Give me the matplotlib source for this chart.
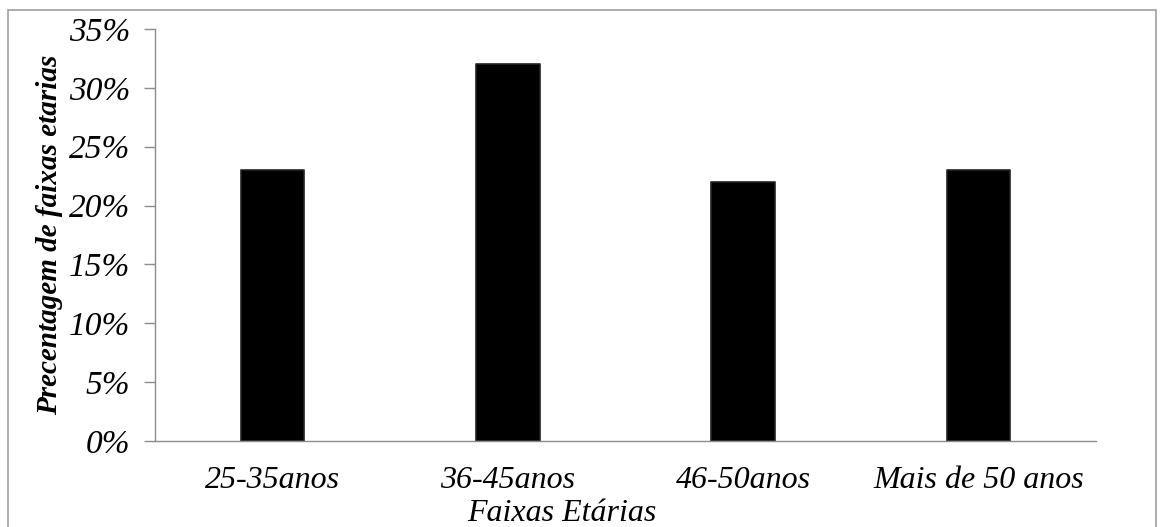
import matplotlib.pyplot as plt
from matplotlib.patches import Rectangle
from matplotlib.ticker import FuncFormatter

categorias = ['25-35anos', '36-45anos', '46-50anos', 'Mais de 50 anos']
percentagens = [23, 32, 22, 23]
yticks = [0, 5, 10, 15, 20, 25, 30, 35]

plt.rcParams['font.family'] = ['Liberation Serif', 'DejaVu Serif']

fig = plt.figure(figsize=(11.64, 5.27), dpi=100)
ax = fig.add_axes([0.1332, 0.1632, 0.9416 - 0.1332, 0.945 - 0.1632])

x = range(len(categorias))
ax.bar(x, percentagens, width=0.27, color='black', edgecolor='#222222',
       linewidth=1.2, joinstyle='round')

ax.set_xlim(-0.5, len(categorias) - 0.5)
ax.set_ylim(0, 35)
ax.set_yticks(yticks)
ax.yaxis.set_major_formatter(FuncFormatter(lambda v, p: '%d%%' % v))
ax.set_xticks(list(x))
ax.set_xticklabels(categorias)

for lab in ax.get_xticklabels():
    lab.set_fontsize(23)
    lab.set_fontstyle('italic')
for lab in ax.get_yticklabels():
    lab.set_fontsize(24)
    lab.set_fontstyle('italic')

ax.tick_params(axis='x', length=0, pad=18)
ax.tick_params(axis='y', length=8, width=1, color='#8c8c8c', pad=10)

for s in ['top', 'right']:
    ax.spines[s].set_visible(False)
for s in ['left', 'bottom']:
    ax.spines[s].set_color('#8c8c8c')
    ax.spines[s].set_linewidth(1)

ax.set_ylabel('Precentagem de faixas etarias', fontsize=21, fontstyle='italic',
              fontweight='bold', labelpad=4)
fig.text(0.483, 0.026, 'Faixas Etárias', fontsize=23, fontstyle='italic',
         ha='center', va='center')

# moldura do grafico
fig.patches.append(Rectangle((8 / 1164, -0.01), 1148 / 1164, 1 - 10 / 527 + 0.01,
                             transform=fig.transFigure, fill=False,
                             edgecolor='#a0a0a0', linewidth=1.2))

fig.savefig('out.png', dpi=100)
